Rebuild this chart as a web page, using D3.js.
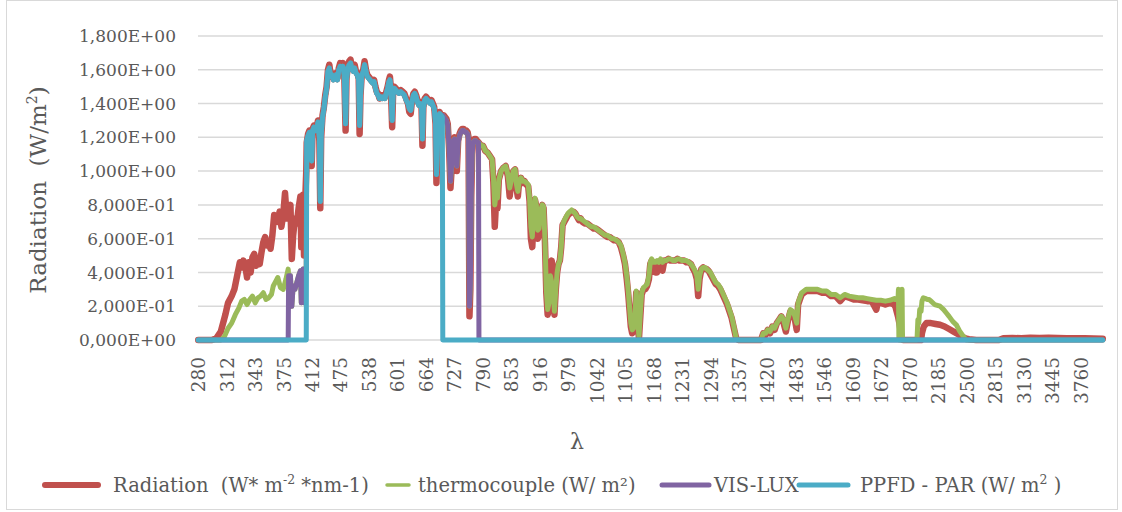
<!DOCTYPE html>
<html>
<head>
<meta charset="utf-8">
<script src="https://cdnjs.cloudflare.com/ajax/libs/d3/7.8.5/d3.min.js"></script>
<style>
  body { margin: 0; background: #fff; }
  text { font-family: 'DejaVu Serif', serif; fill: #595959; white-space: pre; }
</style>
</head>
<body>
<svg id="chart" width="1122" height="512"></svg>
<script>
// ========= Data ========= //
// category axis: 280-400 every 0.5 nm, 401-1700 every 1 nm, 1702, 1705-4000 every 5 nm
const catBreaksNm = [280, 400, 1700, 1702, 1705, 4000];
const catBreaksIdx = [0, 240, 1540, 1541, 1542, 2001];
const categoryCount = 2002;

const xTickLabels = [280, 312, 343, 375, 412, 475, 538, 601, 664, 727, 790, 853, 916, 979, 1042,
  1105, 1168, 1231, 1294, 1357, 1420, 1483, 1546, 1609, 1672, 1870, 2185, 2500, 2815, 3130, 3445, 3760];
const yTicks = [0, 0.2, 0.4, 0.6, 0.8, 1.0, 1.2, 1.4, 1.6, 1.8];

// [wavelength nm, W m-2 nm-1]
const radiation = [
  [280,0],[295,0],[300,0.01],[305,0.05],[310,0.15],[313,0.22],[317,0.26],[320,0.3],[323,0.38],[326,0.46],
  [328,0.43],[330,0.47],[332,0.44],[334,0.37],[336,0.46],[338,0.4],[340,0.49],[342,0.51],[344,0.44],[346,0.47],
  [348,0.45],[350,0.52],[352,0.58],[354,0.61],[356,0.56],[358,0.58],[360,0.54],[362,0.62],[364,0.74],[366,0.72],
  [368,0.7],[370,0.76],[372,0.67],[374,0.74],[376,0.87],[378,0.72],[380,0.74],[382,0.8],[383.5,0.48],[385,0.62],
  [387,0.72],[389,0.69],[391,0.78],[393,0.85],[394,0.55],[395,0.75],[396,0.86],[397,0.5],[398.5,0.85],[399.5,1.0],
  [400,1.17],[403,1.22],[406,1.24],[409,1.22],[411,1.03],[413,1.25],[416,1.27],[419,1.25],[422,1.26],[425,1.3],
  [428,1.18],[430,0.78],[432,1.2],[435,1.33],[438,1.38],[441,1.45],[444,1.5],[447,1.6],[450,1.63],[453,1.57],
  [456,1.58],[459,1.55],[462,1.56],[465,1.58],[468,1.55],[471,1.61],[474,1.64],[477,1.62],[480,1.64],[483,1.58],
  [486,1.24],[488,1.55],[491,1.62],[494,1.65],[497,1.66],[500,1.61],[503,1.6],[506,1.63],[509,1.59],[512,1.58],
  [515,1.55],[517,1.22],[519,1.45],[522,1.58],[525,1.6],[528,1.65],[531,1.6],[534,1.57],[537,1.56],[540,1.55],
  [543,1.54],[546,1.53],[549,1.54],[552,1.5],[555,1.47],[558,1.46],[561,1.43],[564,1.45],[567,1.44],[570,1.45],
  [573,1.44],[576,1.47],[579,1.5],[582,1.54],[584,1.56],[586,1.5],[589,1.26],[591,1.45],[594,1.5],[597,1.49],
  [600,1.48],[604,1.47],[608,1.48],[612,1.47],[616,1.46],[620,1.43],[624,1.4],[627,1.35],[630,1.34],[633,1.42],
  [636,1.46],[639,1.47],[642,1.45],[645,1.42],[648,1.4],[651,1.41],[654,1.38],[656,1.15],[658,1.38],[661,1.43],
  [664,1.44],[667,1.43],[670,1.42],[673,1.41],[676,1.42],[679,1.4],[682,1.38],[685,1.28],[687,0.93],[689,1.13],
  [691,1.3],[694,1.35],[697,1.33],[700,1.32],[703,1.33],[706,1.32],[709,1.31],[712,1.28],[715,1.13],[718,0.9],
  [721,1.03],[724,1.18],[727,1.2],[730,1.08],[732,1.0],[735,1.18],[738,1.22],[741,1.24],[744,1.25],[747,1.25],
  [750,1.24],[753,1.24],[756,1.23],[758,1.2],[760,0.14],[762,0.3],[764,0.85],[766,1.1],[768,1.18],[771,1.19],
  [774,1.19],[777,1.18],[780,1.17],[783,1.16],[786,1.15],[790,1.15],[795,1.12],[800,1.11],[805,1.09],[810,1.07],
  [813,0.93],[816,0.67],[819,0.83],[822,0.78],[825,0.95],[830,1.0],[835,1.02],[840,1.03],[845,0.97],[849,0.85],
  [853,0.95],[857,1.0],[861,1.01],[864,0.9],[867,0.85],[870,0.94],[874,0.96],[878,0.93],[882,0.94],[886,0.92],
  [890,0.91],[893,0.82],[896,0.6],[899,0.55],[902,0.74],[905,0.83],[908,0.79],[911,0.6],[914,0.62],[917,0.75],
  [921,0.8],[924,0.78],[927,0.58],[930,0.28],[933,0.15],[936,0.2],[939,0.42],[942,0.47],[945,0.33],[948,0.15],
  [951,0.3],[954,0.4],[957,0.45],[960,0.47],[963,0.55],[966,0.68],[970,0.7],[974,0.72],[978,0.74],[982,0.75],
  [986,0.76],[990,0.76],[994,0.75],[998,0.73],[1002,0.71],[1006,0.72],[1010,0.7],[1015,0.69],[1020,0.69],[1025,0.68],
  [1030,0.67],[1035,0.66],[1040,0.66],[1045,0.65],[1050,0.64],[1055,0.63],[1060,0.62],[1065,0.61],[1070,0.61],[1075,0.6],
  [1080,0.59],[1085,0.59],[1090,0.58],[1095,0.55],[1100,0.5],[1104,0.45],[1108,0.36],[1111,0.28],[1114,0.18],[1117,0.08],
  [1120,0.04],[1123,0.05],[1126,0.12],[1129,0.28],[1132,0.1],[1135,0.01],[1138,0.14],[1141,0.27],[1145,0.3],[1149,0.3],
  [1153,0.32],[1157,0.36],[1160,0.45],[1163,0.47],[1167,0.44],[1171,0.4],[1175,0.4],[1179,0.45],[1183,0.47],[1187,0.41],
  [1191,0.47],[1195,0.47],[1200,0.48],[1205,0.47],[1210,0.47],[1215,0.47],[1220,0.48],[1225,0.47],[1230,0.47],[1235,0.47],
  [1240,0.46],[1245,0.46],[1250,0.45],[1255,0.42],[1259,0.4],[1263,0.36],[1266,0.26],[1269,0.36],[1273,0.42],[1277,0.43],
  [1281,0.42],[1285,0.42],[1289,0.41],[1293,0.39],[1297,0.37],[1301,0.35],[1305,0.33],[1310,0.32],[1315,0.3],[1320,0.27],
  [1325,0.24],[1330,0.21],[1335,0.17],[1340,0.13],[1345,0.07],[1350,0.01],[1355,0],[1405,0],[1410,0.04],[1415,0.03],
  [1420,0.06],[1425,0.04],[1430,0.08],[1435,0.06],[1440,0.1],[1445,0.12],[1450,0.14],[1455,0.1],[1460,0.05],[1465,0.12],
  [1470,0.17],[1475,0.15],[1480,0.12],[1484,0.06],[1487,0.21],[1491,0.24],[1495,0.27],[1500,0.28],[1505,0.29],[1510,0.29],
  [1520,0.29],[1530,0.29],[1540,0.28],[1550,0.28],[1555,0.27],[1560,0.26],[1570,0.26],[1580,0.23],[1590,0.26],[1600,0.25],
  [1610,0.24],[1620,0.24],[1630,0.235],[1640,0.23],[1650,0.23],[1660,0.18],[1663,0.22],[1670,0.22],[1680,0.21],[1690,0.22],
  [1700,0.21],[1702,0.2],[1705,0.2],[1720,0.17],[1735,0.14],[1750,0.1],[1765,0.05],[1780,0.01],[1790,0],[1990,0],
  [2000,0.04],[2020,0.08],[2050,0.1],[2100,0.1],[2150,0.095],[2200,0.09],[2250,0.08],[2300,0.065],[2350,0.05],[2400,0.035],
  [2440,0.02],[2480,0.01],[2520,0.005],[2600,0],[2850,0],[2900,0.01],[3000,0.012],[3100,0.01],[3200,0.014],[3300,0.012],
  [3400,0.013],[3500,0.012],[3600,0.011],[3700,0.01],[3800,0.01],[3900,0.009],[4000,0.008]
];

const thermocouple = [
  [280,0],[305,0],[309,0.02],[313,0.07],[317,0.1],[321,0.15],[325,0.19],[328,0.23],[331,0.24],[334,0.21],
  [337,0.24],[340,0.26],[343,0.22],[346,0.25],[349,0.26],[352,0.28],[355,0.24],[358,0.25],[361,0.27],[363,0.32],
  [366,0.35],[368,0.37],[371,0.31],[374,0.3],[377,0.36],[379.5,0.42],[380,0.38],[382,0.38],[383.5,0.2],[385,0.32],
  [387,0.3],[389,0.34],[391,0.38],[393,0.41],[394,0.22],[395,0.38],[396,0.42],[397,0.22],[398.5,0.4],[399.5,0.42],
  [400,1.18],[403,1.21],[406,1.23],[409,1.21],[411,1.06],[413,1.24],[416,1.26],[419,1.24],[422,1.25],[425,1.29],
  [428,1.2],[430,0.82],[432,1.21],[435,1.32],[438,1.37],[441,1.44],[444,1.49],[447,1.59],[450,1.61],[453,1.56],
  [456,1.57],[459,1.54],[462,1.55],[465,1.57],[468,1.54],[471,1.6],[474,1.62],[477,1.61],[480,1.62],[483,1.57],
  [486,1.28],[488,1.54],[491,1.61],[494,1.63],[497,1.64],[500,1.6],[503,1.59],[506,1.61],[509,1.58],[512,1.57],
  [515,1.54],[517,1.27],[519,1.45],[522,1.57],[525,1.59],[528,1.63],[531,1.59],[534,1.56],[537,1.55],[540,1.54],
  [543,1.53],[546,1.52],[549,1.53],[552,1.49],[555,1.46],[558,1.45],[561,1.43],[564,1.44],[567,1.43],[570,1.44],
  [573,1.43],[576,1.46],[579,1.49],[582,1.53],[584,1.54],[586,1.5],[589,1.3],[591,1.45],[594,1.49],[597,1.48],
  [600,1.47],[604,1.46],[608,1.47],[612,1.46],[616,1.45],[620,1.42],[624,1.4],[627,1.37],[630,1.36],[633,1.41],
  [636,1.45],[639,1.46],[642,1.44],[645,1.41],[648,1.39],[651,1.4],[654,1.37],[656,1.19],[658,1.37],[661,1.42],
  [664,1.43],[667,1.42],[670,1.41],[673,1.4],[676,1.41],[679,1.39],[682,1.37],[685,1.29],[687,0.98],[689,1.15],
  [691,1.3],[694,1.34],[697,1.33],[700,1.32],[701,1.33],[703,1.32],[706,1.31],[709,1.3],[712,1.27],[715,1.14],
  [718,0.94],[721,1.05],[724,1.18],[727,1.19],[730,1.09],[732,1.03],[735,1.17],[738,1.21],[741,1.23],[744,1.24],
  [747,1.24],[750,1.23],[753,1.23],[756,1.22],[758,1.19],[760,0.2],[762,0.33],[764,0.86],[766,1.1],[768,1.17],
  [771,1.18],[774,1.18],[777,1.17],[780,1.17],[781,1.16],[783,1.16],[786,1.15],[790,1.15],[795,1.12],[800,1.11],
  [805,1.09],[810,1.07],[813,0.96],[816,0.8],[819,0.87],[822,0.84],[825,0.95],[830,1.0],[835,1.02],[840,1.03],
  [845,0.98],[849,0.9],[853,0.95],[857,1.0],[861,1.01],[864,0.92],[867,0.88],[870,0.94],[874,0.96],[878,0.94],
  [882,0.94],[886,0.93],[890,0.92],[893,0.84],[896,0.67],[899,0.61],[902,0.76],[905,0.84],[908,0.8],[911,0.65],
  [914,0.66],[917,0.76],[921,0.8],[924,0.79],[927,0.6],[930,0.3],[933,0.18],[936,0.22],[939,0.38],[942,0.34],
  [945,0.3],[948,0.17],[951,0.3],[954,0.4],[957,0.45],[960,0.47],[963,0.55],[966,0.68],[970,0.71],[974,0.73],
  [978,0.75],[982,0.76],[986,0.77],[990,0.76],[994,0.75],[998,0.73],[1002,0.72],[1006,0.72],[1010,0.71],[1015,0.7],
  [1020,0.69],[1025,0.68],[1030,0.67],[1035,0.67],[1040,0.66],[1045,0.65],[1050,0.64],[1055,0.63],[1060,0.62],[1065,0.62],
  [1070,0.61],[1075,0.6],[1080,0.6],[1085,0.59],[1090,0.58],[1095,0.56],[1100,0.51],[1104,0.46],[1108,0.38],[1111,0.3],
  [1114,0.2],[1117,0.1],[1120,0.06],[1123,0.07],[1126,0.14],[1129,0.29],[1132,0.12],[1135,0.02],[1138,0.16],[1141,0.28],
  [1145,0.31],[1149,0.32],[1153,0.33],[1157,0.38],[1160,0.46],[1163,0.48],[1167,0.46],[1171,0.46],[1175,0.47],[1179,0.46],
  [1183,0.48],[1187,0.46],[1191,0.47],[1195,0.47],[1200,0.48],[1205,0.48],[1210,0.47],[1215,0.47],[1220,0.48],[1225,0.48],
  [1230,0.47],[1235,0.47],[1240,0.47],[1245,0.46],[1250,0.45],[1255,0.43],[1259,0.41],[1263,0.38],[1266,0.3],[1269,0.38],
  [1273,0.42],[1277,0.43],[1281,0.43],[1285,0.42],[1289,0.41],[1293,0.4],[1297,0.38],[1301,0.36],[1305,0.34],[1310,0.33],
  [1315,0.31],[1320,0.28],[1325,0.25],[1330,0.22],[1335,0.18],[1340,0.14],[1345,0.08],[1350,0.01],[1355,0],[1405,0],
  [1410,0.04],[1415,0.04],[1420,0.06],[1425,0.05],[1430,0.08],[1435,0.07],[1440,0.1],[1445,0.12],[1450,0.14],[1455,0.12],
  [1460,0.07],[1465,0.13],[1470,0.18],[1475,0.17],[1480,0.14],[1484,0.1],[1487,0.22],[1491,0.25],[1495,0.28],[1500,0.29],
  [1505,0.3],[1510,0.3],[1520,0.3],[1530,0.3],[1540,0.29],[1550,0.29],[1555,0.28],[1560,0.27],[1570,0.27],[1580,0.25],
  [1590,0.27],[1600,0.26],[1610,0.255],[1620,0.25],[1630,0.25],[1640,0.245],[1650,0.24],[1660,0.235],[1670,0.235],[1680,0.23],
  [1690,0.235],[1700,0.245],[1702,0.24],[1705,0.24],[1720,0.24],[1735,0.24],[1740,0.3],[1745,0],[1775,0],[1780,0.3],
  [1785,0],[1945,0],[1955,0.12],[1965,0.1],[1975,0.18],[1990,0.17],[2000,0.23],[2015,0.25],[2040,0.245],[2060,0.24],
  [2080,0.24],[2100,0.23],[2140,0.21],[2200,0.2],[2240,0.18],[2270,0.16],[2300,0.14],[2340,0.11],[2380,0.09],[2420,0.05],
  [2460,0.02],[2490,0],[4000,0]
];

// the two sensor bands follow the thermocouple inside their range and read 0 outside it
const visBand = [380, 780];
const parBand = [400, 700];

const series = [
  { name: 'radiation', color: '#C0504D', width: 6.5 },
  { name: 'thermocouple', color: '#9BBB59', width: 5 },
  { name: 'vislux', color: '#8064A2', width: 5 },
  { name: 'ppfd', color: '#4BACC6', width: 5 }
];

// ========= Setup ========= //
const svg = d3.select('#chart');
const plot = { left: 198, right: 1103, top: 36, bottom: 340 };

svg.append('rect')
  .attr('x', 6.5).attr('y', 0.5)
  .attr('width', 1111).attr('height', 509)
  .attr('fill', '#fff')
  .attr('stroke', '#D9D9D9');

const catToPx = d3.scaleLinear()
  .domain([-0.5, categoryCount - 0.5])
  .range([plot.left, plot.right]);

const x = d3.scaleLinear()
  .domain(catBreaksNm)
  .range(catBreaksIdx.map(catToPx));

const y = d3.scaleLinear()
  .domain([0, 1.8])
  .range([plot.bottom, plot.top]);

const fmtY = v => {
  const [m, e] = v.toExponential(3).split('e');
  const n = +e;
  return m.replace('.', ',') + 'E' + (n < 0 ? '-' : '+') + String(Math.abs(n)).padStart(2, '0');
};

// ========= Grid + axes ========= //
svg.append('g')
  .selectAll('line')
  .data(yTicks)
  .join('line')
    .attr('x1', plot.left)
    .attr('x2', plot.right)
    .attr('y1', d => y(d))
    .attr('y2', d => y(d))
    .attr('stroke', '#D9D9D9')
    .attr('stroke-width', 1.5);

svg.append('g')
  .selectAll('text')
  .data(yTicks)
  .join('text')
    .attr('x', 176)
    .attr('y', d => y(d))
    .attr('dy', '0.36em')
    .attr('text-anchor', 'end')
    .attr('font-size', '17px')
    .text(fmtY);

svg.append('g')
  .selectAll('text')
  .data(xTickLabels)
  .join('text')
    .attr('transform', d => `translate(${x(d)} 357) rotate(-90)`)
    .attr('dy', '0.36em')
    .attr('text-anchor', 'end')
    .attr('font-size', '18.5px')
    .text(d => d);

const yTitle = svg.append('text')
  .attr('transform', 'translate(46 190) rotate(-90)')
  .attr('text-anchor', 'middle')
  .attr('font-size', '23px');
yTitle.append('tspan').text('Radiation  (W/m');
yTitle.append('tspan').attr('font-size', '14px').attr('dy', '-9').text('2');
yTitle.append('tspan').attr('dy', '9').text(')');

svg.append('text')
  .attr('x', 577)
  .attr('y', 449)
  .attr('text-anchor', 'middle')
  .attr('font-size', '22px')
  .text('λ');

// ========= Lines ========= //
const bandOf = (band) => thermocouple.map(([nm, v]) => [nm, nm >= band[0] && nm <= band[1] ? v : 0]);
const lineData = {
  radiation: radiation,
  thermocouple: thermocouple,
  vislux: bandOf(visBand),
  ppfd: bandOf(parBand)
};

const line = d3.line()
  .x(d => x(d[0]))
  .y(d => y(d[1]));

svg.append('g')
  .selectAll('path')
  .data(series)
  .join('path')
    .attr('d', d => line(lineData[d.name]))
    .attr('fill', 'none')
    .attr('stroke', d => d.color)
    .attr('stroke-width', d => d.width)
    .attr('stroke-linejoin', 'round')
    .attr('stroke-linecap', 'round');

// ========= Legend ========= //
const legendY = 485;
const legendItems = [
  { color: '#C0504D', x1: 45, x2: 98, w: 6, tx: 113 },
  { color: '#9BBB59', x1: 387, x2: 409, w: 3.5, tx: 418 },
  { color: '#8064A2', x1: 662, x2: 709, w: 5, tx: 714 },
  { color: '#4BACC6', x1: 799, x2: 848, w: 5, tx: 860 }
];

svg.append('g')
  .selectAll('line')
  .data(legendItems)
  .join('line')
    .attr('x1', d => d.x1)
    .attr('x2', d => d.x2)
    .attr('y1', legendY)
    .attr('y2', legendY)
    .attr('stroke', d => d.color)
    .attr('stroke-width', d => d.w)
    .attr('stroke-linecap', 'round');

const legendText = (i) => svg.append('text')
  .attr('x', legendItems[i].tx)
  .attr('y', legendY + 7)
  .attr('font-size', '19.5px');

const t0 = legendText(0);
t0.append('tspan').text('Radiation  (W* m');
t0.append('tspan').attr('font-size', '12.5px').attr('dy', '-8').text('-2');
t0.append('tspan').attr('dy', '8').text(' *nm-1)');

legendText(1).text('thermocouple (W/ m²)');
legendText(2).text('VIS-LUX');

const t3 = legendText(3);
t3.append('tspan').text('PPFD - PAR (W/ m');
t3.append('tspan').attr('font-size', '12.5px').attr('dy', '-8').text('2');
t3.append('tspan').attr('dy', '8').text(' )');
</script>
</body>
</html>
